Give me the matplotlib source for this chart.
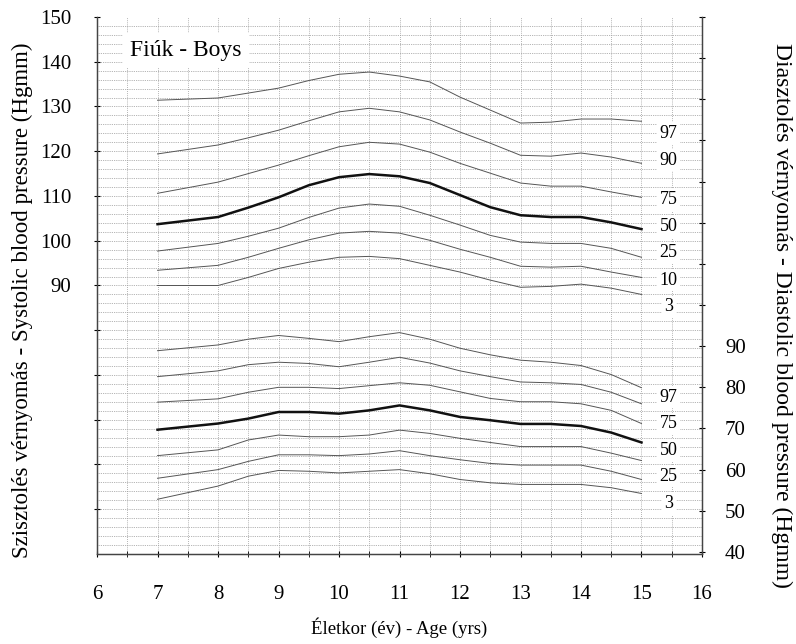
import numpy as np
import matplotlib
matplotlib.use("Agg")
from matplotlib import pyplot as plt

plt.rcParams['font.family'] = ['Liberation Serif', 'DejaVu Serif']

# age (years)
age = [7, 8, 8.5, 9, 9.5, 10, 10.5, 11, 11.5, 12, 12.5, 13, 13.5, 14, 14.5, 15]

# systolic percentiles (left axis)
sys_p97 = [131.4, 131.9, 133.0, 134.1, 135.8, 137.2, 137.7, 136.8, 135.5, 132.1, 129.2, 126.3, 126.5, 127.2, 127.2, 126.7]
sys_p90 = [119.4, 121.4, 123.0, 124.7, 126.8, 128.8, 129.6, 128.8, 127.0, 124.3, 121.8, 119.1, 118.9, 119.6, 118.7, 117.3]
sys_p75 = [110.6, 113.1, 115.0, 116.9, 119.0, 121.0, 122.0, 121.6, 119.8, 117.3, 115.1, 112.9, 112.2, 112.2, 110.9, 109.7]
sys_p50 = [103.7, 105.3, 107.4, 109.7, 112.4, 114.2, 114.9, 114.4, 112.9, 110.2, 107.5, 105.7, 105.3, 105.3, 104.1, 102.6]
sys_p25 = [97.7, 99.4, 101.0, 102.8, 105.2, 107.3, 108.2, 107.7, 105.7, 103.5, 101.2, 99.7, 99.4, 99.4, 98.3, 96.3]
sys_p10 = [93.4, 94.5, 96.3, 98.3, 100.2, 101.7, 102.1, 101.7, 100.1, 98.1, 96.3, 94.3, 94.1, 94.3, 93.0, 91.8]
sys_p3 = [90.0, 90.0, 91.8, 93.8, 95.2, 96.3, 96.5, 96.0, 94.5, 93.0, 91.2, 89.6, 89.8, 90.3, 89.4, 88.0]

# diastolic percentiles (right axis)
dia_p97 = [88.9, 90.3, 91.7, 92.6, 91.9, 91.1, 92.3, 93.3, 91.7, 89.5, 87.9, 86.6, 86.1, 85.3, 83.1, 79.9]
dia_p90 = [82.6, 84.0, 85.5, 86.1, 85.8, 85.0, 86.1, 87.3, 85.9, 84.0, 82.6, 81.3, 81.1, 80.7, 78.8, 76.0]
dia_p75 = [76.4, 77.2, 78.8, 80.0, 80.0, 79.7, 80.4, 81.1, 80.5, 78.9, 77.3, 76.5, 76.5, 76.0, 74.4, 71.2]
dia_p50 = [69.7, 71.2, 72.4, 74.0, 74.0, 73.6, 74.4, 75.6, 74.4, 72.8, 72.0, 71.1, 71.1, 70.6, 69.0, 66.6]
dia_p25 = [63.4, 64.8, 67.2, 68.4, 68.0, 68.0, 68.4, 69.6, 68.8, 67.6, 66.6, 65.6, 65.6, 65.6, 64.0, 62.2]
dia_p10 = [57.9, 60.0, 62.0, 63.6, 63.6, 63.4, 63.8, 64.6, 63.4, 62.4, 61.5, 61.1, 61.1, 61.1, 59.6, 57.6]
dia_p3 = [52.8, 56.0, 58.4, 59.8, 59.6, 59.2, 59.6, 60.0, 59.0, 57.6, 56.8, 56.4, 56.4, 56.4, 55.6, 54.2]

sys_curves = [sys_p97, sys_p90, sys_p75, sys_p50, sys_p25, sys_p10, sys_p3]
dia_curves = [dia_p97, dia_p90, dia_p75, dia_p50, dia_p25, dia_p10, dia_p3]

# percentile labels as printed, with their vertical positions
sys_labels = ['97', '90', '75', '50', '25', '10', '3']
sys_label_y = [124.0, 118.0, 109.2, 103.2, 97.3, 91.2, 85.2]
dia_labels = ['97', '75', '50', '25', '3']
dia_label_y = [77.6, 71.1, 64.6, 58.4, 51.7]

fig = plt.figure(figsize=(7.96, 6.44), dpi=100)
ax = fig.add_axes([0.1219, 0.1398, 0.760, 0.8338])
ax2 = ax.twinx()

ax.set_xlim(6, 16)
ax.set_ylim(30, 150)
ax2.set_ylim(39.5, 168)

# graph paper grid
for xv in np.arange(6.5, 16, 0.5):
    ax.axvline(xv, color='#9a9a9a', lw=0.6, ls=(0, (1, 1.5)), zorder=0)
for yv in np.arange(32, 150, 2):
    ax.axhline(yv, color='#9a9a9a', lw=0.6, ls=(0, (1, 1.2)), zorder=0)

for i, c in enumerate(sys_curves):
    lw = 1.8 if i == 3 else 0.7
    col = '#111111' if i == 3 else '#555555'
    ax.plot(age, c, color=col, lw=lw, zorder=3)
for i, c in enumerate(dia_curves):
    lw = 1.8 if i == 3 else 0.7
    col = '#111111' if i == 3 else '#555555'
    ax2.plot(age, c, color=col, lw=lw, zorder=3)

box = dict(facecolor='white', edgecolor='none', pad=2)
for lab, yv in zip(sys_labels, sys_label_y):
    ax.text(15.45, yv, lab, fontsize=13, ha='center', va='center', bbox=box, zorder=4)
for lab, yv in zip(dia_labels, dia_label_y):
    ax2.text(15.45, yv, lab, fontsize=13, ha='center', va='center', bbox=box, zorder=4)

ax.text(6.55, 142.6, 'Fiúk - Boys', fontsize=17, ha='left', va='center',
        bbox=dict(facecolor='white', edgecolor='none', pad=5), zorder=4)

# axes and ticks
ax.set_xticks(range(6, 17))
ax.set_xticks(np.arange(6, 16.01, 0.5), minor=True)
ax.tick_params(axis='x', labelsize=15, length=4, direction='inout', pad=20)
ax.tick_params(axis='x', which='minor', length=4, direction='inout')

ax.set_yticks(range(40, 151, 10))
ax.set_yticklabels([str(v) if v >= 90 else '' for v in range(40, 151, 10)])
ax.tick_params(axis='y', labelsize=15, length=5, direction='inout', pad=16)

ax2.set_yticks(range(40, 171, 10))
ax2.set_yticklabels([str(v) if v <= 90 else '' for v in range(40, 171, 10)])
ax2.tick_params(axis='y', labelsize=15, length=5, direction='inout', pad=14)

for a in (ax, ax2):
    a.spines['top'].set_visible(False)
    for s in ('left', 'right', 'bottom'):
        a.spines[s].set_color('#444444')
        a.spines[s].set_linewidth(0.9)

ax.set_xlabel('Életkor (év) - Age (yrs)', fontsize=13.5, va='center')
ax.xaxis.set_label_coords(0.5, -0.138)
ax.set_ylabel('Szisztolés vérnyomás - Systolic blood pressure (Hgmm)', fontsize=16.5,
              va='center')
ax.yaxis.set_label_coords(-0.124, 0.473)
ax2.set_ylabel('Diasztolés vérnyomás - Diastolic blood pressure (Hgmm)', fontsize=17,
               rotation=-90, va='center')
ax2.yaxis.set_label_coords(1.132, 0.445)

fig.savefig('out.png', dpi=100)
